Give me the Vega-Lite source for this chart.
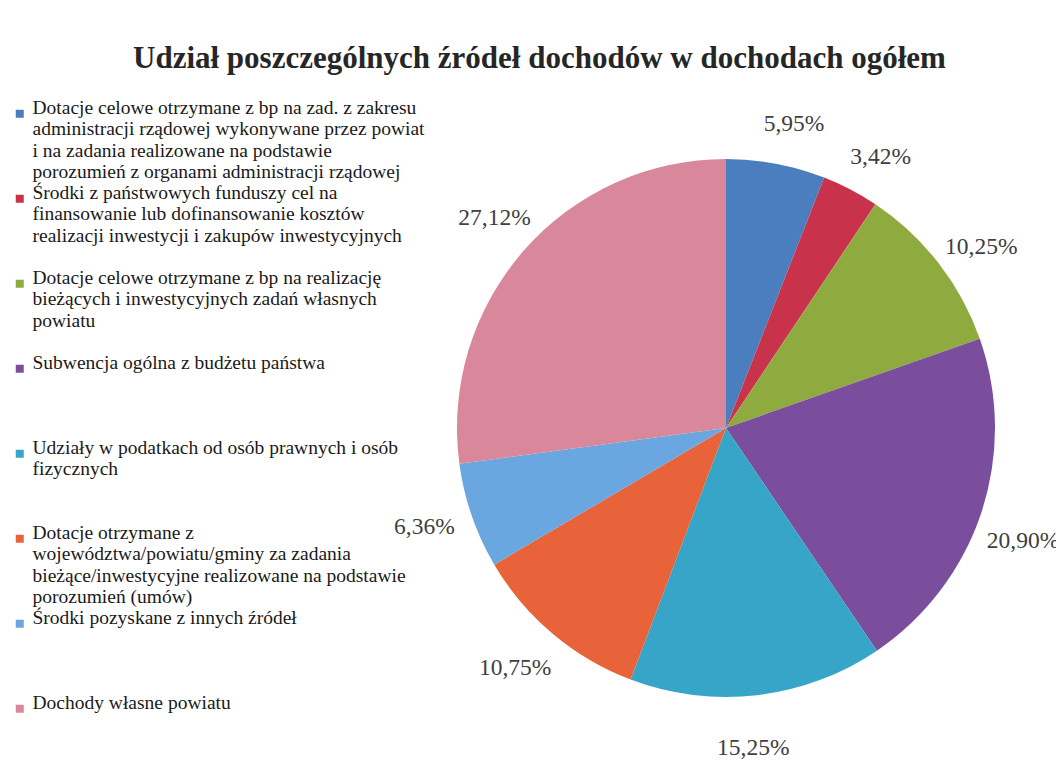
{
  "$schema": "https://vega.github.io/schema/vega-lite/v6.json",
  "autosize": {"type": "none"},
  "width": 538,
  "height": 538,
  "padding": {"left": 457, "top": 159, "right": 61, "bottom": 81},
  "background": "white",
  "title": {
    "text": "Udział poszczególnych źródeł dochodów w dochodach ogółem",
    "font": "Liberation Serif",
    "fontSize": 31,
    "fontWeight": "bold",
    "color": "#262626",
    "anchor": "start",
    "frame": "group",
    "dx": -324,
    "offset": 5,
    "baseline": "alphabetic"
  },
  "data": {
    "values": [
      {"nr": 1, "zrodlo": "Dotacje celowe otrzymane z bp na zad. z zakresu administracji rządowej wykonywane przez powiat i na zadania realizowane na podstawie porozumień z organami administracji rządowej", "udzial": 5.95},
      {"nr": 2, "zrodlo": "Środki z państwowych funduszy celowych na finansowanie lub dofinansowanie kosztów realizacji inwestycji i zakupów inwestycyjnych", "udzial": 3.42},
      {"nr": 3, "zrodlo": "Dotacje celowe otrzymane z bp na realizację bieżących i inwestycyjnych zadań własnych powiatu", "udzial": 10.25},
      {"nr": 4, "zrodlo": "Subwencja ogólna z budżetu państwa", "udzial": 20.90},
      {"nr": 5, "zrodlo": "Udziały w podatkach od osób prawnych i osób fizycznych", "udzial": 15.25},
      {"nr": 6, "zrodlo": "Dotacje otrzymane z województwa/powiatu/gminy za zadania bieżące/inwestycyjne realizowane na podstawie porozumień (umów)", "udzial": 10.75},
      {"nr": 7, "zrodlo": "Środki pozyskane z innych źródeł", "udzial": 6.36},
      {"nr": 8, "zrodlo": "Dochody własne powiatu", "udzial": 27.12}
    ]
  },
  "transform": [
    {"calculate": "replace(format(datum.udzial, '.2f'), '.', ',') + '%'", "as": "etykieta"}
  ],
  "encoding": {
    "theta": {"field": "udzial", "type": "quantitative", "stack": true},
    "order": {"field": "nr", "type": "quantitative"},
    "color": {
      "field": "zrodlo",
      "type": "nominal",
      "scale": {
        "domain": [
          "Dotacje celowe otrzymane z bp na zad. z zakresu administracji rządowej wykonywane przez powiat i na zadania realizowane na podstawie porozumień z organami administracji rządowej",
          "Środki z państwowych funduszy celowych na finansowanie lub dofinansowanie kosztów realizacji inwestycji i zakupów inwestycyjnych",
          "Dotacje celowe otrzymane z bp na realizację bieżących i inwestycyjnych zadań własnych powiatu",
          "Subwencja ogólna z budżetu państwa",
          "Udziały w podatkach od osób prawnych i osób fizycznych",
          "Dotacje otrzymane z województwa/powiatu/gminy za zadania bieżące/inwestycyjne realizowane na podstawie porozumień (umów)",
          "Środki pozyskane z innych źródeł",
          "Dochody własne powiatu"
        ],
        "range": ["#4a7ebf", "#c8324b", "#8fab40", "#7a4d9d", "#36a5c8", "#e8633a", "#6aa6df", "#d8889a"]
      },
      "legend": {
        "orient": "none",
        "legendX": -447,
        "legendY": -55,
        "title": null,
        "symbolType": "square",
        "symbolSize": 64,
        "symbolStrokeWidth": 0,
        "labelFont": "Liberation Serif",
        "labelFontSize": 19.5,
        "labelLineHeight": 19.5,
        "labelColor": "#1a1a1a",
        "labelLimit": 0,
        "labelOffset": 3,
        "labelBaseline": "alphabetic",
        "rowPadding": 0,
        "labelExpr": "datum.index == 0 ? ['Dotacje celowe otrzymane z bp na zad. z zakresu', 'administracji rządowej wykonywane przez powiat', 'i na zadania realizowane na podstawie', 'porozumień z organami administracji rządowej'] : datum.index == 1 ? ['Środki z państwowych funduszy cel  na', 'finansowanie lub dofinansowanie kosztów', 'realizacji inwestycji i zakupów inwestycyjnych', ''] : datum.index == 2 ? ['Dotacje celowe otrzymane z bp na realizację', 'bieżących i inwestycyjnych zadań własnych', 'powiatu', ''] : datum.index == 3 ? ['Subwencja ogólna z budżetu państwa', '', '', ''] : datum.index == 4 ? ['Udziały w podatkach od osób prawnych i osób', 'fizycznych', '', ''] : datum.index == 5 ? ['Dotacje otrzymane z', 'województwa/powiatu/gminy za zadania', 'bieżące/inwestycyjne realizowane na podstawie', 'porozumień (umów)'] : datum.index == 6 ? ['Środki pozyskane z innych źródeł', '', '', ''] : ['Dochody własne powiatu']"
      }
    }
  },
  "layer": [
    {"mark": {"type": "arc"}},
    {
      "mark": {"type": "text", "radius": 316, "thetaOffset": 0.03, "dy": 5, "font": "Liberation Serif", "fontSize": 23.5},
      "encoding": {
        "text": {"field": "etykieta", "type": "nominal"},
        "color": {"value": "#404040"}
      }
    }
  ]
}
